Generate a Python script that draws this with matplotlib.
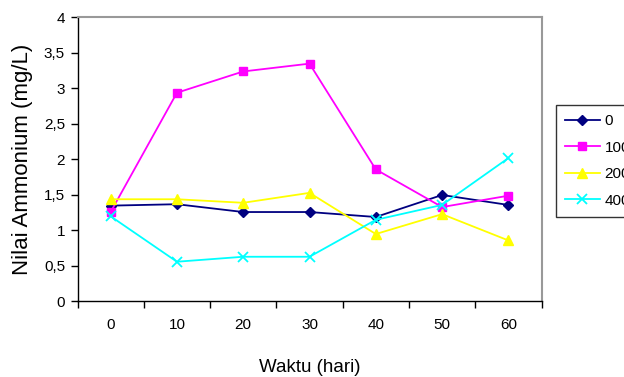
import matplotlib
matplotlib.use("Agg")
import numpy as np
from matplotlib import pyplot as plt
from matplotlib.ticker import FixedLocator, FuncFormatter

plt.rcParams['font.family'] = ['Liberation Sans', 'DejaVu Sans']

days = ['0', '10', '20', '30', '40', '50', '60']
dose_0 = [1.35, 1.37, 1.26, 1.26, 1.19, 1.50, 1.36]
dose_100 = [1.26, 2.94, 3.24, 3.35, 1.86, 1.33, 1.49]
dose_200 = [1.44, 1.44, 1.39, 1.53, 0.95, 1.23, 0.86]
dose_400 = [1.20, 0.56, 0.63, 0.63, 1.15, 1.36, 2.02]

fig = plt.figure(figsize=(6.24, 3.77), dpi=100)
ax = fig.add_axes([0.1242, 0.2003, 0.7436, 0.7533])

x = np.arange(len(days))
ax.plot(x, dose_0, color='#000080', marker='D', markersize=5.5, lw=1.3, label='0')
ax.plot(x, dose_100, color='#FF00FF', marker='s', markersize=6, lw=1.3, label='100')
ax.plot(x, dose_200, color='#FFFF00', marker='^', markersize=7, lw=1.3, label='200')
ax.plot(x, dose_400, color='#00FFFF', marker='x', markersize=7, mew=1.3, lw=1.3, label='400')

ax.set_xlim(-0.5, len(days) - 0.5)
ax.set_ylim(0, 4)

# category boundaries carry the tick marks, labels sit at the centres
ax.xaxis.set_major_locator(FixedLocator(np.arange(-0.5, len(days), 1.0)))
ax.xaxis.set_major_formatter(FuncFormatter(lambda v, p: ''))
ax.xaxis.set_minor_locator(FixedLocator(x))
ax.set_xticklabels(days, minor=True)
ax.tick_params(axis='x', which='major', length=5, width=1, direction='out', color='black')
ax.tick_params(axis='x', which='minor', length=0, pad=12, labelsize=11)

ax.set_yticks(np.arange(0, 4.01, 0.5))
ax.yaxis.set_major_formatter(FuncFormatter(lambda v, p: ('%g' % v).replace('.', ',')))
ax.tick_params(axis='y', length=5, width=1, direction='out', labelsize=11, pad=4)

for side in ['top', 'right']:
    ax.spines[side].set_color('#999999')
    ax.spines[side].set_linewidth(1.5)
for side in ['left', 'bottom']:
    ax.spines[side].set_color('black')
    ax.spines[side].set_linewidth(1)

ax.set_xlabel('Waktu (hari)', fontsize=13.5, labelpad=19)
ax.set_ylabel('Nilai Ammonium (mg/L)', fontsize=16, labelpad=8)

leg = ax.legend(loc='upper left', bbox_to_anchor=(1.0306, 0.692), fontsize=11,
                frameon=True, fancybox=False, edgecolor='black', handlelength=2.3,
                labelspacing=0.82, borderpad=0.6, handletextpad=0.3, borderaxespad=0)
leg.get_frame().set_linewidth(1)

fig.savefig('out.png', dpi=100)
